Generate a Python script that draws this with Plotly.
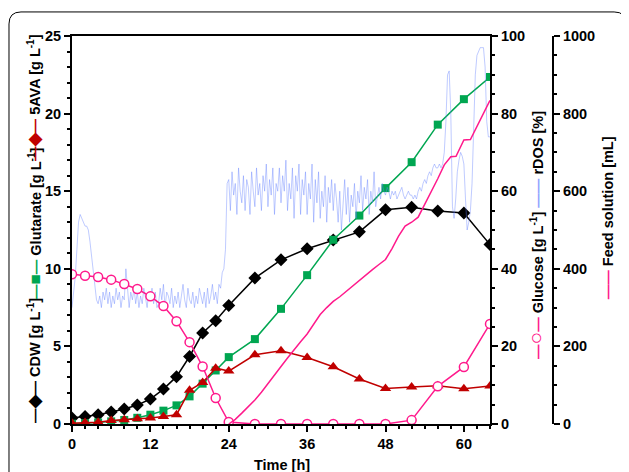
import plotly.graph_objects as go
import numpy as np

# sampling times [h]
time_h = [0, 2, 4, 6, 8, 10, 12, 14, 16, 18, 20, 22, 24,
          28, 32, 36, 40, 44, 48, 52, 56, 60, 64]

cdw = [0.39, 0.49, 0.6, 0.77, 0.97, 1.22, 1.61, 2.25, 3.05, 4.35, 5.86, 6.65, 7.64,
       9.4, 10.58, 11.29, 11.85, 12.38, 13.8, 13.97, 13.73, 13.6, 11.56]
glutarate = [0.02, 0.05, 0.1, 0.17, 0.26, 0.4, 0.6, 0.86, 1.2, 1.78, 2.6, 3.45, 4.31,
             5.47, 7.42, 9.59, 11.87, 13.43, 15.2, 16.87, 19.29, 20.93, 22.36]
ava = [0.05, 0.1, 0.12, 0.23, 0.28, 0.34, 0.38, 0.49, 0.6, 2.17, 2.68, 3.6, 3.41,
       4.46, 4.72, 4.29, 3.69, 2.9, 2.29, 2.38, 2.47, 2.27, 2.45]
glucose = [38.6, 38.2, 37.9, 37.2, 36.1, 34.8, 32.9, 30.4, 26.5, 21.1, 14.8, 6.7, 0.5,
           0, 0, 0, 0, 0, 0, 1.0, 9.7, 14.7, 25.8]

# feed solution [mL]
feed_time = [24, 25, 26, 27, 28, 29, 30, 31, 32, 33, 34, 35, 36, 37, 38, 39, 40, 41, 42,
             43, 44, 45, 46, 47, 48, 49, 50, 51, 52, 53, 54, 55, 56, 57, 58, 58.8, 59.5,
             60, 61, 62, 63, 64]
feed = [0, 12, 28, 45, 62, 82, 103, 125, 148, 170, 192, 212, 232, 258, 282, 300, 316, 328,
        342, 357, 372, 385, 398, 411, 424, 452, 484, 510, 520, 533, 565, 598, 632, 668,
        689, 690, 715, 732, 733, 768, 800, 834]

# rDOS [%], online signal every 0.25 h
rdos_time = np.arange(0, 64.01, 0.25)
rdos = [30, 34, 38, 45, 52, 54, 53, 52, 51, 51, 50, 47, 43, 39, 35, 32,
        31, 33, 30, 34, 32, 35, 31, 34, 30, 33, 31, 35, 32, 34, 30, 33,
        32, 40, 35, 30, 34, 32, 35, 31, 34, 30, 33, 31, 35, 32, 30, 34,
        32, 35, 31, 34, 30, 31, 35, 32, 36, 30, 34, 33, 31, 35, 30, 33,
        31, 34, 30, 33, 36, 32, 30, 35, 32, 31, 34, 30, 33, 31, 35, 33,
        31, 34, 30, 35, 31, 33, 36, 32, 34, 31, 36, 35, 39, 40, 45, 62,
        63, 55, 65, 59, 62, 54, 66, 60, 57, 64, 55, 63, 61, 54, 65, 60,
        56, 66, 59, 62, 55, 64, 60, 67, 56, 63, 59, 66, 54, 62, 60, 66,
        57, 64, 60, 68, 55, 62, 58, 66, 53, 64, 60, 67, 54, 63, 59, 65,
        54, 62, 58, 67, 52, 63, 57, 65, 53, 60, 56, 64, 52, 61, 57, 63,
        55, 62, 58, 52, 60, 50, 57, 63, 54, 61, 52, 59, 56, 62, 53, 60,
        57, 64, 55, 61, 58, 63, 54, 60, 57, 65, 56, 59, 61, 58, 62, 60,
        59, 61, 60, 58, 60, 59, 60, 58, 59, 60, 61, 59, 58, 59, 60, 59,
        59, 58, 59, 58, 60, 61, 60, 62, 63, 62, 64, 65, 64, 66, 67, 66,
        66, 67, 66, 67, 70, 78, 90, 91, 80, 56, 53, 58, 65, 68, 70, 69,
        67, 58, 50, 52, 55, 62, 76, 90, 95, 96, 97, 97, 97, 92, 78, 74,
        74]

PINK = '#FF1A8C'
FONT = 'Liberation Sans, Arial, sans-serif'
FS = 14.5

fig = go.Figure()

fig.add_trace(go.Scatter(x=time_h, y=cdw, mode='lines+markers', name='CDW',
                         line=dict(color='black', width=1.5),
                         marker=dict(symbol='diamond', size=10, color='black')))
fig.add_trace(go.Scatter(x=time_h, y=glutarate, mode='lines+markers', name='Glutarate',
                         line=dict(color='#00A651', width=1.5),
                         marker=dict(symbol='square', size=8, color='#00A651')))
fig.add_trace(go.Scatter(x=time_h, y=ava, mode='lines+markers', name='5AVA',
                         line=dict(color='#C00000', width=1.5),
                         marker=dict(symbol='triangle-up', size=10, color='#C00000')))
fig.add_trace(go.Scatter(x=rdos_time, y=rdos, mode='lines', name='rDOS', yaxis='y2',
                         line=dict(color='rgba(95,125,255,0.4)', width=1)))
fig.add_trace(go.Scatter(x=time_h, y=glucose, mode='lines+markers', name='Glucose', yaxis='y2',
                         line=dict(color=PINK, width=1.5),
                         marker=dict(symbol='circle', size=9, color='white',
                                     line=dict(color=PINK, width=1.5))))
fig.add_trace(go.Scatter(x=feed_time, y=feed, mode='lines', name='Feed solution', yaxis='y3',
                         line=dict(color=PINK, width=1.5)))

tickfont = dict(family=FONT, size=FS, color='black', weight='bold')
axis_common = dict(showline=True, linecolor='black', linewidth=2, ticks='outside',
                   ticklen=6, tickwidth=2, tickcolor='black', showgrid=False,
                   zeroline=False, tickfont=tickfont)

# page body adds 8 px, so margins are reduced accordingly
fig.update_layout(
    width=629, height=472,
    margin=dict(l=64, r=84, t=28, b=56),
    plot_bgcolor='white', paper_bgcolor='white',
    showlegend=False,
    xaxis=dict(range=[0, 64], domain=[0, 418 / 481], tickvals=[0, 12, 24, 36, 48, 60],
               mirror=True,
               minor=dict(dtick=2, ticks='outside', ticklen=3, tickwidth=2, tickcolor='black'),
               **axis_common),
    yaxis=dict(range=[0, 25], dtick=5,
               minor=dict(dtick=1, ticks='outside', ticklen=3, tickwidth=2, tickcolor='black'),
               **axis_common),
    yaxis2=dict(range=[0, 100], dtick=20, overlaying='y', side='right', anchor='x',
                minor=dict(dtick=5, ticks='outside', ticklen=3, tickwidth=2, tickcolor='black'),
                **axis_common),
    yaxis3=dict(range=[0, 1000], dtick=200, overlaying='y', side='right', anchor='free',
                position=1.0,
                minor=dict(dtick=50, ticks='outside', ticklen=3, tickwidth=2, tickcolor='black'),
                **axis_common),
)

# rounded frame around the panel
x0, x1, yt, yb = -0.131, 1.152, 1.062, -0.15
rx, ry = 12 / 481, 12 / 388
fig.add_shape(type='path', xref='paper', yref='paper',
              path=f'M {x0},{yb} L {x0},{yt - ry} Q {x0},{yt} {x0 + rx},{yt} '
                   f'L {x1 - rx},{yt} Q {x1},{yt} {x1},{yt - ry} L {x1},{yb}',
              line=dict(color='black', width=1))

afont = dict(family=FONT, size=FS, color='black', weight='bold')


def glyph(color, mark, size=17):
    return (f'<span style="color:{color}">—</span>'
            f'<span style="color:{color};font-size:{size}px">{mark}</span>'
            f'<span style="color:{color}">—</span>')


def side_title(x, y, text):
    fig.add_annotation(x=x, y=y, xref='paper', yref='paper', text=text, textangle=-90,
                       showarrow=False, font=afont, xanchor='center', yanchor='middle')


side_title(-0.077, 0.165, glyph('black', '◆') + ' CDW [g L<sup>-1</sup>]')
side_title(-0.077, 0.518, glyph('#00A651', '■') + ' Glutarate [g L<sup>-1</sup>]')
side_title(-0.077, 0.843, glyph('#C00000', '◆') + ' 5AVA [g L<sup>-1</sup>]')
side_title(0.9626, 0.487, glyph(PINK, '○', 21) + ' Glucose [g L<sup>-1</sup>] '
                          '<span style="color:#8FA3FF">——</span> rDOS [%]')
side_title(1.1143, 0.533, f'<span style="color:{PINK}">——</span> Feed solution [mL]')

fig.add_annotation(x=0.4366, y=-0.106, xref='paper', yref='paper', text='Time [h]',
                   showarrow=False, font=afont, xanchor='center', yanchor='middle')

fig.write_html("out.html")
